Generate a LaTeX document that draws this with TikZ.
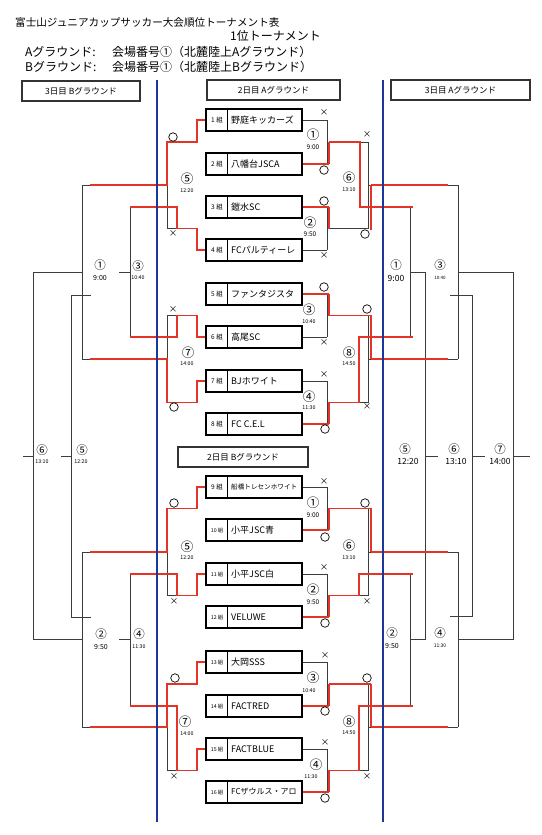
\documentclass[tikz,border=0pt]{standalone}
\usepackage{fontspec}
\setmainfont{Noto Sans CJK JP}
\definecolor{rd}{RGB}{228,52,40}
\definecolor{bl}{RGB}{30,55,150}
\definecolor{gr}{RGB}{60,60,60}
\tikzset{
 g/.style={draw=gr, line width=0.8pt},
 r/.style={draw=rd, line width=1.4pt},
 rt/.style={draw=rd, line width=2.8pt},
 bline/.style={draw=bl, line width=1.8pt},
 tbox/.style={draw=black, line width=1.3pt, fill=white, minimum width=96pt, minimum height=22pt, inner sep=0pt},
 hbox/.style={draw=black!80, line width=1.3pt, fill=white, inner sep=0pt, minimum height=20pt, font=\fontsize{8.5}{8.5}\selectfont},
 okc/.style={circle, draw=black, line width=0.7pt, minimum size=8.5pt, inner sep=0pt},
 ngx/.style={font=\fontsize{8.5}{8.5}\selectfont, inner sep=0pt},
 txt/.style={inner sep=0pt}
}
\newcommand{\team}[6]{%
 \node[tbox] (#1) at (254,#2) {};
 \draw[line width=1.1pt] (#1.north west) ++(22,0) -- ++(0,22);
 \node[txt, font=\fontsize{#6}{#6}\selectfont] (#1n) at (217,#2) {#3};
 \node[txt, anchor=west, font=\fontsize{#5}{#5}\selectfont] (#1t) at (231,#2) {#4};
}
\newcommand{\okm}[3]{\node[okc] (#1) at (#2,#3) {};}
\newcommand{\ngm}[3]{\node[ngx] (#1) at (#2,#3) {×};}
\newcommand{\lab}[5]{\node[txt, font=\fontsize{#5}{#5}\selectfont] (#1) at (#2,#3) {#4};}
\begin{document}
\begin{tikzpicture}[x=1pt,y=-1pt]
\useasboundingbox[fill=white] (0,0) rectangle (541,835);
% titles
\node[txt, anchor=west, font=\fontsize{10.6}{10.6}\selectfont] (title) at (15,22) {富士山ジュニアカップサッカー大会順位トーナメント表};
\node[txt, anchor=west, font=\fontsize{12}{12}\selectfont] (sub) at (230,36) {1位トーナメント};
\node[txt, anchor=west, font=\fontsize{12}{12}\selectfont] (ga) at (25,52) {Aグラウンド:};
\node[txt, anchor=west, font=\fontsize{12}{12}\selectfont] (gai) at (112,52) {会場番号①（北麓陸上Aグラウンド）};
\node[txt, anchor=west, font=\fontsize{12}{12}\selectfont] (gb) at (25,67) {Bグラウンド:};
\node[txt, anchor=west, font=\fontsize{12}{12}\selectfont] (gbi) at (112,67) {会場番号①（北麓陸上Bグラウンド）};

% ---------- gray bracket lines ----------
% right Day 2
\draw[g] (327,120) -| (327,164);
\draw[g] (327,207) -- (327,250);
\draw[g] (327,142) -| (368,228.5) -- (327,228.5);
\draw[g] (368,185) -- (458,185);
\draw[g] (327,294) -- (327,337);
\draw[g] (327,381) -- (327,424);
\draw[g] (327,315.5) -| (368,402.5) -- (327,402.5);
\draw[g] (368,359) -- (458,359);
\draw[g] (327,487) -- (327,530);
\draw[g] (327,574) -- (327,617);
\draw[g] (327,508.5) -| (368,595.5) -- (327,595.5);
\draw[g] (368,552) -- (458,552);
\draw[g] (327,662) -- (327,706);
\draw[g] (327,749) -- (327,792);
\draw[g] (327,684) -| (368,770.5) -- (327,770.5);
\draw[g] (368,727) -- (458,727);
% right Day 3 A
\draw[g] (410,207) -- (410,337);
\draw[g] (410,574) -- (410,706);
\draw[g] (458,185) -- (458,359);
\draw[g] (458,552) -- (458,727);
\draw[g] (410,272) -| (425,639.5) -- (410,639.5);
\draw[g] (458,272) -| (513,639.5) -- (458,639.5);
\draw[g] (450,295) -| (472,616) -- (450,616);
\draw[g] (425,456) -- (438,456);
\draw[g] (472,456) -- (485,456);
\draw[g] (513,456) -- (530,456);
% left Day 2
\draw[g] (197,142) -- (167,142) -- (167,228.5) -- (177,228.5);
\draw[g] (167,185) -- (82,185);
\draw[g] (177,315.5) -- (167,315.5) -- (167,402.5);
\draw[g] (167,359) -- (82,359);
\draw[g] (167,508.5) -- (167,595.5) -- (177,595.5);
\draw[g] (167,552) -- (82,552);
\draw[g] (167,684) -- (167,770.5) -- (177,770.5);
\draw[g] (167,727) -- (82,727);
% left Day 3 B
\draw[g] (82,185) -- (82,359);
\draw[g] (82,552) -- (82,727);
\draw[g] (130,207) -- (130,337);
\draw[g] (130,574) -- (130,706);
\draw[g] (82,272) -| (33,639.5) -- (82,639.5);
\draw[g] (119,272) -- (130,272);
\draw[g] (119,639.5) -- (130,639.5);
\draw[g] (91,295) -| (71,617) -- (91,617);
\draw[g] (61,456) -- (71,456);
\draw[g] (23,456) -- (33,456);

% ---------- team boxes ----------
\team{t1}{120}{1 組}{野庭キッカーズ}{9}{6.5}
\team{t2}{164}{2 組}{八幡台JSCA}{9}{6.5}
\team{t3}{207}{3 組}{鎧水SC}{9}{6.5}
\team{t4}{250}{4 組}{FCパルティーレ}{9}{6.5}
\team{t5}{294}{5 組}{ファンタジスタ}{9}{6.5}
\team{t6}{337}{6 組}{高尾SC}{9}{6.5}
\team{t7}{381}{7 組}{BJホワイト}{9}{6.5}
\team{t8}{424}{8 組}{FC C.E.L}{9}{6.5}
\team{t9}{487}{9 組}{船橋トレセンホワイト}{6.6}{6.5}
\team{t10}{530}{10 組}{小平JSC青}{9}{5.3}
\team{t11}{574}{11 組}{小平JSC白}{9}{5.3}
\team{t12}{617}{12 組}{VELUWE}{9}{5.3}
\team{t13}{662}{13 組}{大岡SSS}{9}{5.3}
\team{t14}{706}{14 組}{FACTRED}{9}{5.3}
\team{t15}{749}{15 組}{FACTBLUE}{9}{5.3}
\team{t16}{792}{16 組}{FCザウルス・アロ}{8}{5.3}

% gray stubs from boxes (losers)
\draw[g] (t1.east) -- (327,120);
\draw[g] (t4.east) -- (327,250);
\draw[g] (t6.east) -- (327,337);
\draw[g] (t7.east) -- (327,381);
\draw[g] (t9.east) -- (327,487);
\draw[g] (t11.east) -- (327,574);
\draw[g] (t13.east) -- (327,662);
\draw[g] (t15.east) -- (327,749);

% ---------- red paths ----------
% right, group A upper
\draw[r] (t2.east) -- (329,164); \draw[rt] (329,164) -- (329,141.5);
\draw[r] (t3.east) -- (329,207); \draw[rt] (329,207) -- (329,229);
\draw[r] (329,142) -- (360,142) -- (360,207) -- (413,207);
\draw[rt] (371,229.5) -- (371,185); \draw[r] (371,185) -- (448,185);
% right, group A lower
\draw[r] (t5.east) -- (329,294); \draw[rt] (329,294) -- (329,316);
\draw[r] (t8.east) -- (329,424); \draw[rt] (329,424) -- (329,402);
\draw[r] (329,315.5) -- (371,315.5); \draw[rt] (371,315) -- (371,359); \draw[r] (371,359) -- (448,359);
\draw[r] (329,402.5) -- (359,402.5) -- (359,337) -- (413,337);
% right, group B upper
\draw[r] (t10.east) -- (329,530); \draw[rt] (329,530) -- (329,508);
\draw[r] (t12.east) -- (329,617); \draw[rt] (329,617) -- (329,595);
\draw[r] (329,508.5) -- (371,508.5); \draw[rt] (371,508) -- (371,552); \draw[r] (371,552) -- (448,552);
\draw[r] (329,595.5) -- (359,595.5) -- (359,574) -- (413,574);
% right, group B lower
\draw[r] (t14.east) -- (329,706); \draw[rt] (329,706) -- (329,683.5);
\draw[r] (t16.east) -- (329,792); \draw[rt] (329,792) -- (329,770);
\draw[r] (329,684) -- (371,684); \draw[rt] (371,683.5) -- (371,727); \draw[r] (371,727) -- (448,727);
\draw[r] (329,770.5) -- (359,770.5) -- (359,706) -- (413,706);
% left
\draw[r] (t1.west) -- (197,120) -- (197,142) -- (167,142) -- (167,185) -- (90,185);
\draw[r] (t4.west) -- (197,250) -- (197,228.5) -- (177,228.5) -- (177,207) -- (130,207);
\draw[r] (t6.west) -- (197,337) -- (197,315.5) -- (177,315.5) -- (177,337) -- (130,337);
\draw[r] (t7.west) -- (197,381) -- (197,402.5) -- (167,402.5) -- (167,359) -- (90,359);
\draw[r] (t9.west) -- (197,487) -- (197,508.5) -- (167,508.5) -- (167,552) -- (90,552);
\draw[r] (t11.west) -- (197,574) -- (197,595.5) -- (177,595.5) -- (177,574) -- (130,574);
\draw[r] (t13.west) -- (197,662) -- (197,684) -- (167,684) -- (167,727) -- (90,727);
\draw[r] (t15.west) -- (197,749) -- (197,770.5) -- (177,770.5) -- (177,706) -- (130,706);

% ---------- header boxes ----------
\node[hbox, minimum width=118pt] (h3b) at (81,91) {3日目 Bグラウンド};
\node[hbox, minimum width=133pt] (h2a) at (273.5,90) {2日目 Aグラウンド};
\node[hbox, minimum width=139pt] (h3a) at (460.5,90) {3日目 Aグラウンド};
\node[hbox, minimum width=130pt] (h2b) at (243,457) {2日目 Bグラウンド};

% ---------- markers ----------
\okm{o1}{324}{170} \okm{o2}{324}{201} \okm{o3}{365}{234}
\okm{o4}{324}{287} \okm{o5}{325}{429} \okm{o6}{367}{309}
\okm{o7}{325}{537} \okm{o8}{325}{623} \okm{o9}{365}{503}
\okm{o10}{325}{711} \okm{o11}{325}{798} \okm{o12}{367}{678}
\okm{o13}{173}{137} \okm{o14}{174}{407} \okm{o15}{174}{503} \okm{o16}{175}{678}
\ngm{x1}{324}{113} \ngm{x2}{324}{256} \ngm{x3}{367}{135}
\ngm{x4}{324}{343} \ngm{x5}{324}{375} \ngm{x6}{367}{407}
\ngm{x7}{324}{482} \ngm{x8}{324}{568} \ngm{x9}{367}{602}
\ngm{x10}{325}{656} \ngm{x11}{325}{743} \ngm{x12}{367}{777}
\ngm{x13}{173}{234} \ngm{x14}{173}{310} \ngm{x15}{174}{602} \ngm{x16}{174}{777}

% ---------- match labels, Day 2 ----------
\lab{a1}{313}{135}{①}{12.5} \lab{a1t}{313}{147}{9:00}{6.5}
\lab{a2}{310}{223}{②}{12.5} \lab{a2t}{310}{234}{9:50}{6.5}
\lab{a6}{349}{178}{⑥}{12.5} \lab{a6t}{349}{190}{13:10}{5.3}
\lab{a5}{187}{179}{⑤}{12.5} \lab{a5t}{187}{191}{12:20}{5.3}
\lab{a3}{309}{310}{③}{12.5} \lab{a3t}{309}{322}{10:40}{5.3}
\lab{a4}{309}{397}{④}{12.5} \lab{a4t}{309}{408}{11:30}{5.3}
\lab{a7}{188}{353}{⑦}{12.5} \lab{a7t}{187}{364}{14:00}{5.3}
\lab{a8}{349}{353}{⑧}{12.5} \lab{a8t}{349}{364}{14:50}{5.3}
\lab{b1}{313}{503}{①}{12.5} \lab{b1t}{313}{515}{9:00}{6.5}
\lab{b2}{313}{590}{②}{12.5} \lab{b2t}{313}{602}{9:50}{6.5}
\lab{b5}{187}{547}{⑤}{12.5} \lab{b5t}{187}{558}{12:20}{5.3}
\lab{b6}{349}{546}{⑥}{12.5} \lab{b6t}{349}{558}{13:10}{5.3}
\lab{b3}{313}{678}{③}{12.5} \lab{b3t}{309}{691}{10:40}{5.3}
\lab{b4}{316}{765}{④}{12.5} \lab{b4t}{311}{777}{11:30}{5.3}
\lab{b7}{185}{722}{⑦}{12.5} \lab{b7t}{187}{734}{14:00}{5.3}
\lab{b8}{349}{722}{⑧}{12.5} \lab{b8t}{349}{733}{14:50}{5.3}
% Day 3 B
\lab{c1}{100}{265}{①}{11.5} \lab{c1t}{100}{278}{9:00}{7}
\lab{c3}{138}{266}{③}{11.5} \lab{c3t}{138}{278}{10:40}{5.3}
\lab{c2}{101}{634}{②}{11.5} \lab{c2t}{101}{647}{9:50}{7}
\lab{c4}{139}{634}{④}{11.5} \lab{c4t}{139}{647}{11:30}{5.3}
\lab{c5}{82}{450}{⑤}{11.5} \lab{c5t}{81}{462}{12:20}{5.3}
\lab{c6}{42}{450}{⑥}{11.5} \lab{c6t}{42}{462}{13:10}{5.3}
% Day 3 A
\lab{d1}{396}{265}{①}{11.5} \lab{d1t}{396}{278}{9:00}{8.5}
\lab{d3}{440}{265}{③}{11.5} \lab{d3t}{440}{278}{10:40}{4.5}
\lab{d2}{392}{633}{②}{11.5} \lab{d2t}{392}{646}{9:50}{7}
\lab{d4}{440}{633}{④}{11.5} \lab{d4t}{440}{646}{11:30}{5}
\lab{d5}{405}{449}{⑤}{11.5} \lab{d5t}{408}{461}{12:20}{8.5}
\lab{d6}{454}{449}{⑥}{11.5} \lab{d6t}{456}{461}{13:10}{8.5}
\lab{d7}{500}{449}{⑦}{11.5} \lab{d7t}{500}{461}{14:00}{8.5}

% ---------- blue dividers ----------
\draw[bline] (157,80) -- (157,822);
\draw[bline] (383,80) -- (383,822);
\end{tikzpicture}
\end{document}
